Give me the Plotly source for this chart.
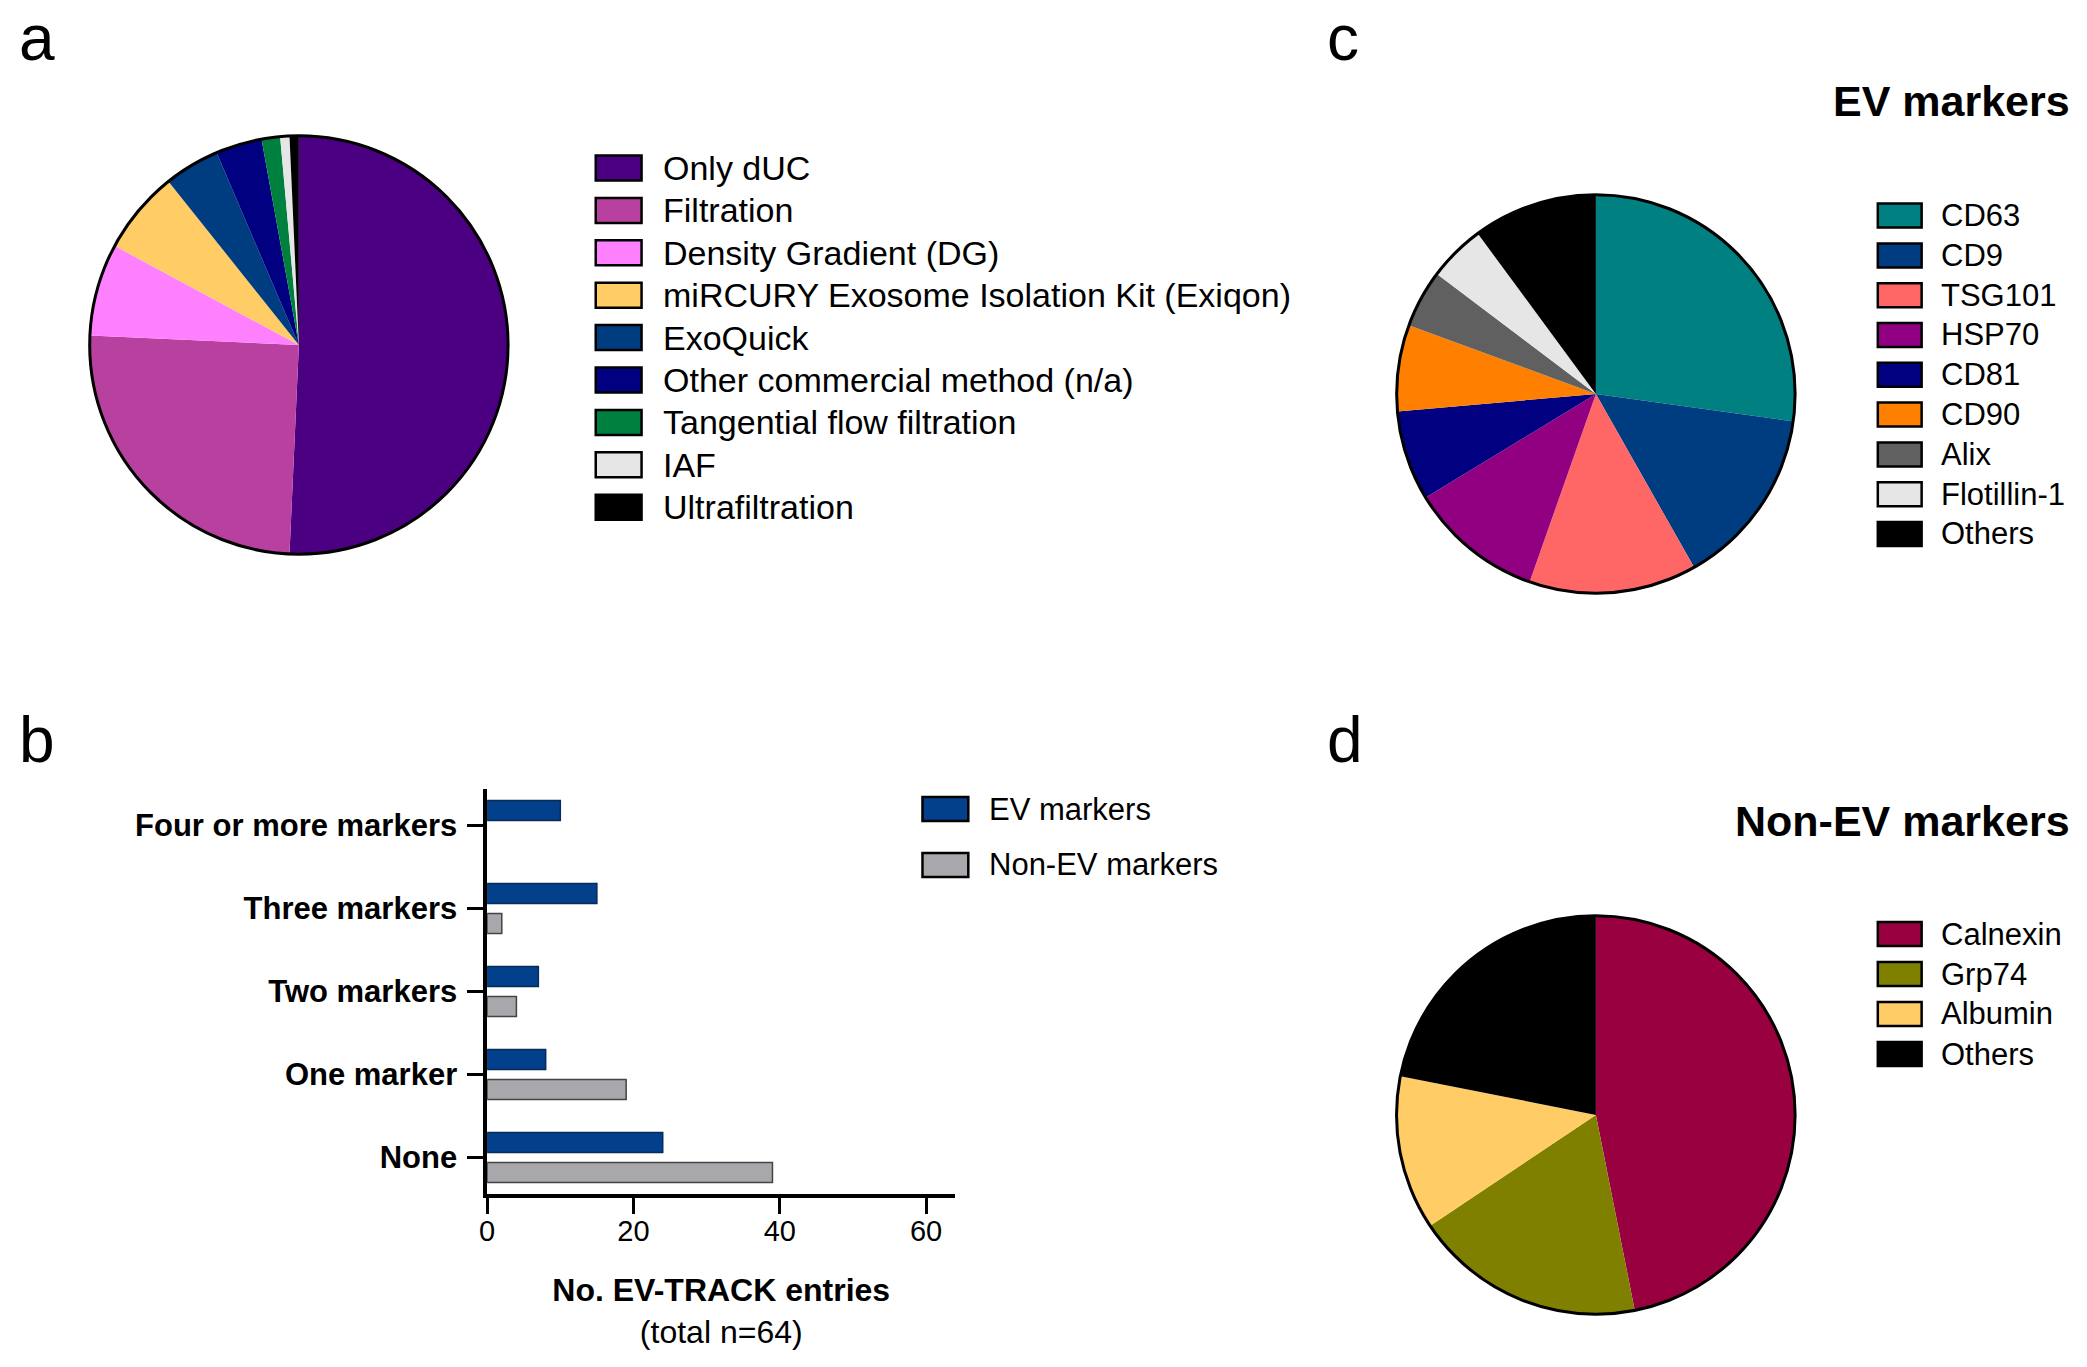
import plotly.graph_objects as go

# canvas size in px, used to turn pixel positions into paper fractions
W, H = 2087, 1367
FONT = "Liberation Sans, Arial, sans-serif"

# panel a - isolation methods
methods = ["Only dUC", "Filtration", "Density Gradient (DG)",
           "miRCURY Exosome Isolation Kit (Exiqon)", "ExoQuick",
           "Other commercial method (n/a)", "Tangential flow filtration",
           "IAF", "Ultrafiltration"]
method_counts = [71, 35, 10, 9, 6, 5, 2, 1, 1]
method_colors = ["#4B0082", "#B8409F", "#FF80FF", "#FFCC66", "#003D80",
                 "#000080", "#00803F", "#E6E6E6", "#000000"]

# panel b - number of markers reported
marker_groups = ["None", "One marker", "Two markers", "Three markers",
                 "Four or more markers"]
ev_entries = [24, 8, 7, 15, 10]
non_ev_entries = [39, 19, 4, 2, 0]

# panel c - EV markers
ev_markers = ["CD63", "CD9", "TSG101", "HSP70", "CD81", "CD90", "Alix",
              "Flotillin-1", "Others"]
ev_share = [27.2, 14.6, 13.6, 10.9, 7.3, 7.0, 4.7, 4.6, 10.1]
ev_colors = ["#008080", "#003D80", "#FF6666", "#900080", "#000080",
             "#FF8000", "#606060", "#E6E6E6", "#000000"]

# panel d - non-EV markers
non_ev_markers = ["Calnexin", "Grp74", "Albumin", "Others"]
non_ev_counts = [15, 6, 4, 7]
non_ev_colors = ["#990040", "#808000", "#FFCC66", "#000000"]


def fx(px):
    return px / W


def fy(py):
    return 1 - py / H


def pie_domain(cx, cy, r):
    return dict(x=[fx(cx - r), fx(cx + r)], y=[fy(cy + r), fy(cy - r)])


fig = go.Figure()


def add_pie(labels, values, colors, cx, cy, r):
    dom = pie_domain(cx, cy, r)
    fig.add_trace(go.Pie(labels=labels, values=values, sort=False,
                         direction="clockwise", rotation=0,
                         marker=dict(colors=colors, line=dict(width=0)),
                         textinfo="none", domain=dom, showlegend=False))
    # outer ring only (no borders between slices)
    fig.add_trace(go.Pie(values=[1], labels=[""], sort=False,
                         marker=dict(colors=["rgba(0,0,0,0)"],
                                     line=dict(color="black", width=3)),
                         textinfo="none", hoverinfo="skip",
                         domain=dom, showlegend=False))


add_pie(methods, method_counts, method_colors, 292, 345, 210)
add_pie(ev_markers, ev_share, ev_colors, 1594, 394, 200)
add_pie(non_ev_markers, non_ev_counts, non_ev_colors, 1594, 1115, 200)

# panel b bars (first trace sits lower in the group)
fig.add_trace(go.Bar(y=marker_groups, x=non_ev_entries, orientation="h",
                     name="Non-EV markers",
                     marker=dict(color="#A8A8AC",
                                 line=dict(color="#444444",
                                           width=[1.5 if v > 0 else 0 for v in non_ev_entries])),
                     showlegend=False))
fig.add_trace(go.Bar(y=marker_groups, x=ev_entries, orientation="h",
                     name="EV markers",
                     marker=dict(color="#02408C",
                                 line=dict(color="#0A2A5A", width=1.5)),
                     showlegend=False))

shapes = []
annotations = []


def add_legend(labels, colors, sw_x, text_x, y0, step, fsize, sw_w=46, sw_h=25):
    for i, (lab, col) in enumerate(zip(labels, colors)):
        yc = y0 + i * step
        shapes.append(dict(type="rect", xref="paper", yref="paper",
                           x0=fx(sw_x), x1=fx(sw_x + sw_w),
                           y0=fy(yc + sw_h / 2), y1=fy(yc - sw_h / 2),
                           fillcolor=col, line=dict(color="black", width=2.5)))
        annotations.append(dict(text=lab, x=fx(text_x), y=fy(yc),
                                xref="paper", yref="paper", xanchor="left",
                                yanchor="middle", showarrow=False,
                                font=dict(size=fsize, color="black")))


add_legend(methods, method_colors, 590, 656, 168, 42.4, 34)
add_legend(ev_markers, ev_colors, 1877, 1938, 215.6, 39.8, 31, sw_w=44, sw_h=24)
add_legend(non_ev_markers, non_ev_colors, 1877, 1938, 934, 40, 31, sw_w=44, sw_h=24)
add_legend(["EV markers", "Non-EV markers"], ["#02408C", "#A8A8AC"],
           918, 983, 809, 56, 31, sw_w=46, sw_h=24)

# panel letters
for letter, x, y in [("a", 9, 38), ("b", 9, 740), ("c", 1322, 38), ("d", 1322, 740)]:
    annotations.append(dict(text=letter, x=fx(x), y=fy(y), xref="paper",
                            yref="paper", xanchor="left", yanchor="middle",
                            showarrow=False, font=dict(size=64, color="black")))

# pie titles
for title, y in [("EV markers", 101), ("Non-EV markers", 821)]:
    annotations.append(dict(text=title, x=fx(2072), y=fy(y), xref="paper",
                            yref="paper", xanchor="right", yanchor="middle",
                            showarrow=False,
                            font=dict(size=43, color="black", weight="bold")))

fig.update_layout(
    width=W, height=H,
    margin=dict(l=0, r=0, t=0, b=0),
    paper_bgcolor="white", plot_bgcolor="white",
    font=dict(family=FONT, color="black"),
    barmode="group", bargap=0.277, bargroupgap=0.333,
    shapes=shapes, annotations=annotations,
    xaxis=dict(domain=[fx(481), fx(951)], range=[0, 64],
               tickvals=[0, 20, 40, 60], showgrid=False, zeroline=False,
               showline=True, linecolor="black", linewidth=3.5,
               ticks="outside", ticklen=16, tickwidth=3, tickcolor="black",
               ticklabelstandoff=-8,
               tickfont=dict(size=29),
               title=dict(text="<b>No. EV-TRACK entries</b><br>(total n=64)",
                          font=dict(size=32), standoff=34)),
    yaxis=dict(domain=[fy(1194), fy(789)], type="category",
               categoryorder="array", categoryarray=marker_groups,
               range=[-0.44, 4.44], showgrid=False, zeroline=False,
               showline=True, linecolor="black", linewidth=3.5,
               ticks="outside", ticklen=16, tickwidth=3, tickcolor="black",
               ticklabelstandoff=4,
               tickfont=dict(size=31, weight="bold")),
)

# the page body has an 8px default margin; drop it so the figure sits at 0,0
fig.write_html("out.html", config={"displayModeBar": False},
               post_script="document.body.style.margin='0';")
